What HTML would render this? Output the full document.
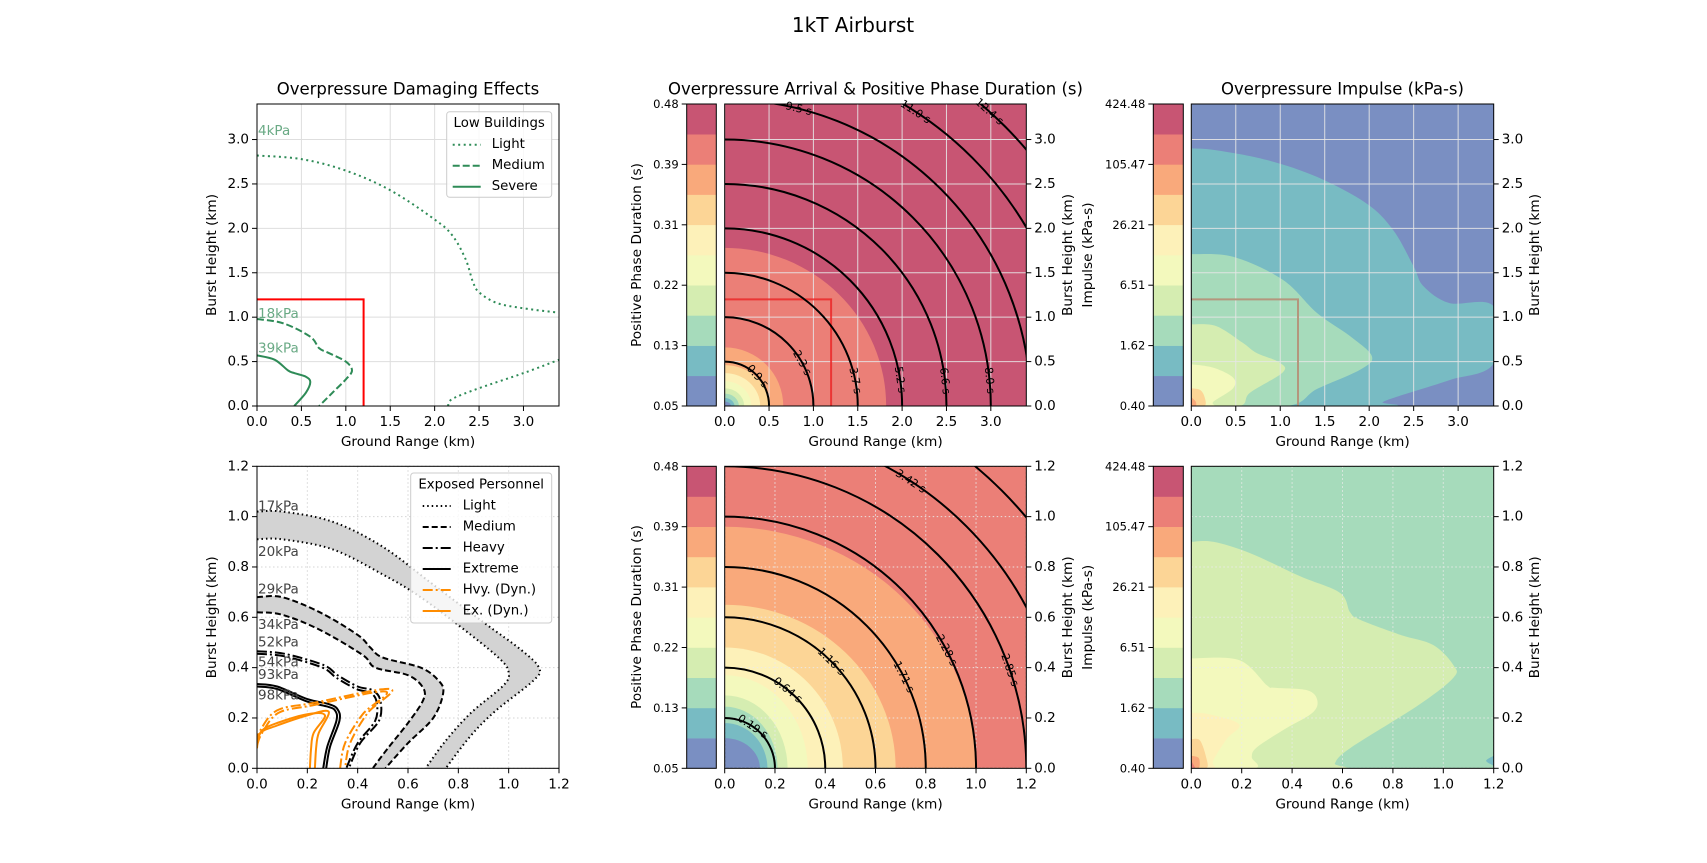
<!DOCTYPE html>
<html><head><meta charset="utf-8"><title>1kT Airburst</title>
<style>
html,body{margin:0;padding:0;background:#fff;width:1707px;height:863px;overflow:hidden;}
svg{display:block;font-family:"DejaVu Sans","Liberation Sans",sans-serif;}
</style></head>
<body>
<svg id="fig" width="1707" height="863" viewBox="0 0 1707 863" xmlns="http://www.w3.org/2000/svg">
<rect width="1707" height="863" fill="#fff"/>
<text x="853" y="25" font-size="20" text-anchor="middle" dominant-baseline="central">1kT Airburst</text>
</svg>
<script>
// ---------- data ----------
const spectral = ['#7a8fc2','#78bbc3','#a6dbbb','#d5edb1','#f3f9bd','#fdf1b9','#fcd596','#f9a97b','#eb7f77','#c85573'];
const durTicks = ['0.48','0.39','0.31','0.22','0.13','0.05'];
const impTicks = ['424.48','105.47','26.21','6.51','1.62','0.40'];
const ticksTop = [0,0.5,1.0,1.5,2.0,2.5,3.0];
const ticksBot = [0,0.2,0.4,0.6,0.8,1.0,1.2];
// Low buildings (top-left)
const lbLightUpper = [[0,2.82],[0.5,2.78],[1.0,2.65],[1.5,2.43],[2.0,2.1],[2.2,1.92],[2.35,1.65],[2.43,1.4],[2.5,1.28],[2.7,1.16],[3.0,1.1],[3.4,1.05]];
const lbLightLower = [[2.15,0],[2.2,0.08],[2.5,0.2],[3.0,0.37],[3.4,0.52]];
const lbMedium = [[0,0.98],[0.3,0.93],[0.6,0.78],[0.7,0.65],[0.8,0.6],[1.0,0.5],[1.07,0.4],[1.0,0.3],[0.85,0.15],[0.7,0]];
const lbSevere = [[0,0.57],[0.2,0.52],[0.35,0.4],[0.42,0.37],[0.55,0.33],[0.6,0.27],[0.55,0.15],[0.42,0]];
const lbLabels = [['4kPa',3.05],['18kPa',0.99],['39kPa',0.6]];
// Exposed personnel (bottom-left)
const epLight17 = [[0,1.02],[0.1,1.02],[0.3,0.98],[0.5,0.88],[0.7,0.73],[0.9,0.58],[1.05,0.47],[1.12,0.4],[1.1,0.35],[0.95,0.23],[0.85,0.13],[0.75,0]];
const epLight20 = [[0,0.91],[0.1,0.91],[0.3,0.87],[0.5,0.77],[0.65,0.68],[0.85,0.53],[0.97,0.43],[1.0,0.38],[0.98,0.33],[0.85,0.22],[0.75,0.11],[0.67,0]];
const epMed29 = [[0,0.68],[0.1,0.68],[0.25,0.62],[0.4,0.53],[0.45,0.48],[0.5,0.44],[0.65,0.4],[0.72,0.35],[0.74,0.3],[0.7,0.2],[0.6,0.1],[0.51,0]];
const epMed34 = [[0,0.62],[0.1,0.61],[0.25,0.55],[0.42,0.45],[0.47,0.4],[0.6,0.37],[0.66,0.32],[0.66,0.27],[0.6,0.18],[0.52,0.08],[0.46,0]];
const epHvy52 = [[0,0.465],[0.11,0.455],[0.265,0.41],[0.32,0.37],[0.4,0.325],[0.46,0.31],[0.49,0.27],[0.485,0.19],[0.41,0.1],[0.365,0]];
const epHvy54 = [[0,0.455],[0.11,0.445],[0.26,0.4],[0.315,0.36],[0.395,0.315],[0.45,0.3],[0.475,0.265],[0.47,0.19],[0.4,0.1],[0.355,0]];
const epExt93 = [[0,0.335],[0.08,0.325],[0.2,0.275],[0.285,0.255],[0.32,0.235],[0.328,0.19],[0.29,0.085],[0.275,0]];
const epExt98 = [[0,0.325],[0.08,0.315],[0.2,0.265],[0.28,0.245],[0.31,0.23],[0.316,0.19],[0.279,0.085],[0.263,0]];
const epHvyDynA = [[0,0.1],[0.013,0.15],[0.08,0.23],[0.225,0.26],[0.53,0.315],[0.44,0.22],[0.37,0.1],[0.35,0]];
const epHvyDynB = [[0,0.09],[0.02,0.14],[0.085,0.22],[0.22,0.25],[0.51,0.305],[0.42,0.215],[0.35,0.1],[0.33,0]];
const epExDynA = [[0,0.08],[0.013,0.14],[0.08,0.17],[0.2,0.21],[0.285,0.225],[0.245,0.14],[0.235,0.08],[0.23,0]];
const epExDynB = [[0,0.1],[0.02,0.15],[0.08,0.18],[0.2,0.215],[0.27,0.21],[0.225,0.14],[0.215,0.08],[0.21,0]];
const epLabels = [['17kPa',1.04],['20kPa',0.86],['29kPa',0.71],['34kPa',0.57],['52kPa',0.5],['54kPa',0.42],['93kPa',0.37],['98kPa',0.29]];
// Duration filled contours: [colorIndex, rx, ry]
const durTopBg = 9;
const durTopFills = [[8,1.82,1.78],[7,0.66,0.66],[6,0.5,0.46],[5,0.4,0.37],[4,0.3,0.28],[3,0.22,0.2],[2,0.16,0.14],[1,0.11,0.09],[0,0.07,0.05]];
const durBotBg = 8;
const durBotFills = [[7,1.0,0.96],[6,0.68,0.65],[5,0.47,0.48],[4,0.33,0.37],[3,0.25,0.29],[2,0.21,0.245],[1,0.17,0.18],[0,0.14,0.12]];
// Arrival contours: radius, label, label angle (deg)
const arrTopR = [0.5,1.0,1.5,2.0,2.5,3.0,3.45,3.95,4.46];
const arrTopLbl = ['0.9 s','2.3 s','3.7 s','5.2 s','6.6 s','8.0 s','9.5 s','11.0 s','12.4 s'];
const arrTopAng = [42,29,11,8.5,6.5,5.5,76,57,48];
const arrBotR = [0.2,0.4,0.6,0.8,1.0,1.2,1.36,1.56];
const arrBotLbl = ['0.19 s','0.64 s','1.16 s','1.71 s','2.28 s','2.85 s','3.42 s',''];
const arrBotAng = [56,51,45,27,28,19,57,0];
// Impulse filled contours (polygons)
const impTopBg = 0;
const impTopFills = [
 [1,[[0,2.9],[0.28,2.88],[0.85,2.77],[1.41,2.58],[1.97,2.28],[2.27,1.98],[2.5,1.57],[2.61,1.35],[2.9,1.16],[3.4,1.12],[3.4,0.48],[2.9,0.29],[2.33,0.11],[2.15,0.04],[2.18,0],[0,0]]],
 [2,[[0,1.71],[0.47,1.68],[1.03,1.42],[1.41,1.05],[1.78,0.79],[2.03,0.56],[1.9,0.41],[1.41,0.19],[1.07,0],[0,0]]],
 [3,[[0,0.92],[0.28,0.9],[0.58,0.71],[0.73,0.6],[0.99,0.49],[1.03,0.38],[0.66,0.15],[0.54,0],[0,0]]],
 [4,[[0,0.47],[0.25,0.43],[0.47,0.32],[0.47,0.2],[0.25,0.05],[0.25,0],[0,0]]],
 [6,[[0,0.2],[0.1,0.18],[0.15,0.1],[0.15,0],[0,0]]],
 [7,[[0,0.1],[0.05,0.05],[0.05,0],[0,0]]]
];
const impBotBg = 2;
const impBotFills = [
 [3,[[0,0.9],[0.087,0.9],[0.233,0.855],[0.432,0.763],[0.59,0.697],[0.63,0.62],[0.67,0.59],[0.83,0.53],[0.96,0.49],[1.04,0.41],[1.04,0.36],[0.9,0.25],[0.63,0.08],[0.57,0.02],[0.58,0],[0,0]]],
 [4,[[0,0.437],[0.19,0.43],[0.3,0.33],[0.33,0.32],[0.46,0.31],[0.5,0.27],[0.48,0.22],[0.37,0.155],[0.26,0.083],[0.24,0.044],[0.25,0],[0,0]]],
 [5,[[0,0.22],[0.07,0.215],[0.19,0.175],[0.14,0.116],[0.087,0.03],[0.09,0],[0,0]]],
 [6,[[0,0.116],[0.035,0.11],[0.06,0.04],[0.06,0],[0,0]]],
 [7,[[0,0.05],[0.03,0.04],[0.03,0],[0,0]]],
 [8,[[0,0.03],[0.015,0],[0,0]]],
 [1,[[1.2,0.05],[1.17,0.03],[1.2,0.01]]]
];
const boxKm = 1.2;

// ---------- helpers ----------
const NS='http://www.w3.org/2000/svg';
const svg=document.getElementById('fig');
function mk(tag,attrs,parent){const e=document.createElementNS(NS,tag);for(const k in attrs)e.setAttribute(k,attrs[k]);(parent||svg).appendChild(e);return e;}
function panel(x0,y0,w,h,xmax,ymax){return {x0,y0,w,h,sx:v=>x0+v/xmax*w,sy:v=>y0+h-v/ymax*h};}
function pts(p,arr){return arr.map(d=>p.sx(d[0]).toFixed(1)+','+p.sy(d[1]).toFixed(1)).join(' ');}
function smoothPath(p,arr,close){
  const P=arr.map(d=>[p.sx(d[0]),p.sy(d[1])]);
  let d='M '+P[0][0].toFixed(1)+' '+P[0][1].toFixed(1);
  for(let i=0;i<P.length-1;i++){
    const p0=P[i-1]||P[i],p1=P[i],p2=P[i+1],p3=P[i+2]||P[i+1];
    const c1=[p1[0]+(p2[0]-p0[0])/6,p1[1]+(p2[1]-p0[1])/6];
    const c2=[p2[0]-(p3[0]-p1[0])/6,p2[1]-(p3[1]-p1[1])/6];
    d+=` C ${c1[0].toFixed(1)} ${c1[1].toFixed(1)} ${c2[0].toFixed(1)} ${c2[1].toFixed(1)} ${p2[0].toFixed(1)} ${p2[1].toFixed(1)}`;
  }
  return d+(close?' Z':'');
}
let clipN=0;
function clipFor(p){const id='clip'+(clipN++);const cp=mk('clipPath',{id});mk('rect',{x:p.x0,y:p.y0,width:p.w,height:p.h},cp);return 'url(#'+id+')';}
function fmt(v){return v.toFixed(1);}

function grid(p,ticks,dotted,color,name){
  const g=mk('g',{stroke:color,'stroke-width':1,'stroke-dasharray':dotted?'1.5,2.5':'none'});
  
  
  ticks.forEach(t=>{mk('line',{x1:p.sx(t),x2:p.sx(t),y1:p.y0,y2:p.y0+p.h},g);mk('line',{x1:p.x0,x2:p.x0+p.w,y1:p.sy(t),y2:p.sy(t)},g);});
}
function axes(p,ticks,yRight,xlabel,ylabels,ylabelX,prefix){
  const fr=mk('rect',{x:p.x0,y:p.y0,width:p.w,height:p.h,fill:'none',stroke:'#000','stroke-width':1});
  
  
  const gx=mk('g',{'font-size':13.5});
  
  
  ticks.forEach(t=>{const x=p.sx(t);mk('line',{x1:x,x2:x,y1:p.y0+p.h,y2:p.y0+p.h+5,stroke:'#000'},gx);
    const tx=mk('text',{x:x,y:p.y0+p.h+16,'text-anchor':'middle','dominant-baseline':'central'},gx);tx.textContent=fmt(t);});
  const gy=mk('g',{'font-size':13.5});
  
  
  ticks.forEach(t=>{const y=p.sy(t);
    if(yRight){mk('line',{x1:p.x0+p.w,x2:p.x0+p.w+5,y1:y,y2:y,stroke:'#000'},gy);
      const tx=mk('text',{x:p.x0+p.w+8,y:y,'text-anchor':'start','dominant-baseline':'central'},gy);tx.textContent=fmt(t);}
    else{mk('line',{x1:p.x0-5,x2:p.x0,y1:y,y2:y,stroke:'#000'},gy);
      const tx=mk('text',{x:p.x0-8,y:y,'text-anchor':'end','dominant-baseline':'central'},gy);tx.textContent=fmt(t);}});
  const xl=mk('text',{x:p.x0+p.w/2,y:p.y0+p.h+36,'text-anchor':'middle','dominant-baseline':'central','font-size':13.7});
  
  
  xl.textContent=xlabel;
  ylabels.forEach((lab,i)=>{const cx=ylabelX[i],cy=p.y0+p.h/2;
    const yl=mk('text',{x:cx,y:cy,'text-anchor':'middle','dominant-baseline':'central','font-size':13.7,transform:`rotate(-90 ${cx} ${cy})`});
    
    
    yl.textContent=lab;});
}
function title(p,txt,name){const t=mk('text',{x:p.x0+p.w/2,y:p.y0-15,'text-anchor':'middle','dominant-baseline':'central','font-size':16.5});
  
  
  t.textContent=txt;}
function colorbar(x,y,w,h,labels,name){
  const g=mk('g',{});
  
  
  const bh=h/spectral.length;
  spectral.forEach((c,i)=>{const r=mk('rect',{x:x,y:y+h-(i+1)*bh,width:w,height:bh+0.3,fill:c},g);
    
    });
  mk('rect',{x:x,y:y,width:w,height:h,fill:'none',stroke:'#000','stroke-width':1},g);
  labels.forEach((l,i)=>{const yy=y+i*h/(labels.length-1);
    mk('line',{x1:x-5,x2:x,y1:yy,y2:yy,stroke:'#000'},g);
    const t=mk('text',{x:x-8,y:yy,'text-anchor':'end','dominant-baseline':'central','font-size':11.5},g);
    
    
    t.textContent=l;});
}
function curve(p,arr,stroke,width,dash,name,clip){
  const e=mk('path',{d:smoothPath(p,arr,false),fill:'none',stroke:stroke,'stroke-width':width,'stroke-dasharray':dash||'none','stroke-linejoin':'round','clip-path':clip});
  
  
  return e;
}
function band(p,outer,inner,name,clip){
  const poly=outer.concat(inner.slice().reverse());
  const d=smoothPath(p,outer,false)+' L'+smoothPath(p,inner.slice().reverse(),false).slice(1)+' Z';
  const e=mk('path',{d:d,fill:'#d3d3d3',stroke:'none','clip-path':clip});
  
  
}
function ellipseFills(p,bg,fills,clip,name){
  const b=mk('rect',{x:p.x0,y:p.y0,width:p.w,height:p.h,fill:spectral[bg]});
  
  
  fills.forEach(f=>{const cx=p.sx(0),cy=p.sy(0);
    const e=mk('ellipse',{cx:cx,cy:cy,rx:p.sx(f[1])-cx,ry:cy-p.sy(f[2]),fill:spectral[f[0]],'clip-path':clip});
    
    });
}
function polyFills(p,bg,fills,clip,name){
  const b=mk('rect',{x:p.x0,y:p.y0,width:p.w,height:p.h,fill:spectral[bg]});
  
  
  fills.forEach(f=>{const e=mk('path',{d:smoothPath(p,f[1],true),fill:spectral[f[0]],'clip-path':clip});
    
    });
}
function arrivals(p,radii,labels,angles,clip,name){
  radii.forEach((r,i)=>{const cx=p.sx(0),cy=p.sy(0);
    const rx=p.sx(r)-cx,ry=cy-p.sy(r);
    const e=mk('path',{d:`M ${cx} ${cy-ry} A ${rx} ${ry} 0 0 1 ${cx+rx} ${cy}`,fill:'none',stroke:'#000','stroke-width':2,'clip-path':clip});
    
    
    if(labels[i]){const a=angles[i]*Math.PI/180;const lx=p.sx(r*Math.cos(a)),ly=p.sy(r*Math.sin(a));
      const t=mk('text',{x:lx,y:ly,'text-anchor':'middle','dominant-baseline':'central','font-size':11,transform:`rotate(${90-angles[i]} ${lx} ${ly})`});
      
      
      t.textContent=labels[i];}
  });
}
function redBox(p,color,name,clip){
  const e=mk('polyline',{points:pts(p,[[0,boxKm],[boxKm,boxKm],[boxKm,0]]),fill:'none',stroke:color,'stroke-width':2,'clip-path':clip});
  
  
}
function legend(x,y,w,h,ttl,entries,name){
  const g=mk('g',{'font-size':13.3});
  
  
  mk('rect',{x:x,y:y,width:w,height:h,rx:3,fill:'rgba(255,255,255,0.8)',stroke:'#ccc'},g);
  const t=mk('text',{x:x+w/2,y:y+12,'text-anchor':'middle','dominant-baseline':'central'},g);t.textContent=ttl;
  entries.forEach((en,i)=>{const yy=y+33+i*21;
    mk('line',{x1:x+en.lx,x2:x+en.lx+28,y1:yy,y2:yy,stroke:en.c,'stroke-width':2,'stroke-dasharray':en.d},g);
    const tt=mk('text',{x:x+en.tx,y:yy,'dominant-baseline':'central'},g);
    
    
    tt.textContent=en.t;});
}

// ---------- panels ----------
const P1=panel(257,104,302,302,3.4,3.4), P2=panel(724.7,104,301.6,302,3.4,3.4), P3=panel(1191.3,104,302.4,302,3.4,3.4);
const P4=panel(257,466.3,302,302,1.2,1.2), P5=panel(724.7,466.3,301.6,302,1.2,1.2), P6=panel(1191.3,466.3,302.4,302,1.2,1.2);
const G='#2e8b57';

// P1
grid(P1,ticksTop,false,'#dedede','damage-grid');
let c1=clipFor(P1);
redBox(P1,'#ff0000','damage-reference-box',c1);
curve(P1,lbLightUpper,G,2,'2,3.5','light-damage-upper',c1);
curve(P1,lbLightLower,G,2,'2,3.5','light-damage-lower',c1);
curve(P1,lbMedium,G,2,'7,3','medium-damage',c1);
curve(P1,lbSevere,G,2,'none','severe-damage',c1);
lbLabels.forEach(l=>{const t=mk('text',{x:P1.sx(0)+1,y:P1.sy(l[1])+ -4,fill:'#6aaa85','font-size':13.5,'dominant-baseline':'central'});
  
  
  t.textContent=l[0];});
axes(P1,ticksTop,false,'Ground Range (km)',['Burst Height (km)'],[212],'damage');
title(P1,'Overpressure Damaging Effects','damage-title');
legend(446.7,111.7,105,85.6,'Low Buildings',[{t:'Light',c:G,d:'2,3.5',lx:6,tx:45},{t:'Medium',c:G,d:'7,3',lx:6,tx:45},{t:'Severe',c:G,d:'none',lx:6,tx:45}],'low-buildings-legend');

// P4
grid(P4,ticksBot,true,'#d5d5d5','personnel-grid');
let c4=clipFor(P4);
band(P4,epLight17,epLight20,'light-band',c4);
band(P4,epMed29,epMed34,'medium-band',c4);
curve(P4,epLight17,'#000',2,'1.5,3','light-17kpa',c4);
curve(P4,epLight20,'#000',2,'1.5,3','light-20kpa',c4);
curve(P4,epMed29,'#000',2,'6,3','medium-29kpa',c4);
curve(P4,epMed34,'#000',2,'6,3','medium-34kpa',c4);
curve(P4,epHvy52,'#000',2,'10,3,2,3','heavy-52kpa',c4);
curve(P4,epHvy54,'#000',2,'10,3,2,3','heavy-54kpa',c4);
curve(P4,epExt93,'#000',2,'none','extreme-93kpa',c4);
curve(P4,epExt98,'#000',2,'none','extreme-98kpa',c4);
curve(P4,epHvyDynA,'#ff8c00',2,'10,3,2,3','heavy-dynamic-a',c4);
curve(P4,epHvyDynB,'#ff8c00',2,'10,3,2,3','heavy-dynamic-b',c4);
curve(P4,epExDynA,'#ff8c00',2,'none','extreme-dynamic-a',c4);
curve(P4,epExDynB,'#ff8c00',2,'none','extreme-dynamic-b',c4);
epLabels.forEach(l=>{const t=mk('text',{x:P4.sx(0)+1,y:P4.sy(l[1]),fill:'#444','font-size':13.5,'dominant-baseline':'central'});
  
  
  t.textContent=l[0];});
axes(P4,ticksBot,false,'Ground Range (km)',['Burst Height (km)'],[212],'personnel');
legend(410.7,473,141,150,'Exposed Personnel',[
 {t:'Light',c:'#000',d:'1.5,3',lx:12,tx:52},{t:'Medium',c:'#000',d:'6,3',lx:12,tx:52},{t:'Heavy',c:'#000',d:'10,3,2,3',lx:12,tx:52},
 {t:'Extreme',c:'#000',d:'none',lx:12,tx:52},{t:'Hvy. (Dyn.)',c:'#ff8c00',d:'10,3,2,3',lx:12,tx:52},{t:'Ex. (Dyn.)',c:'#ff8c00',d:'none',lx:12,tx:52}],'exposed-personnel-legend');

// P2
let c2=clipFor(P2);
ellipseFills(P2,durTopBg,durTopFills,c2,'duration-top');
grid(P2,ticksTop,false,'rgba(230,230,230,0.9)','arrival-top-grid');
redBox(P2,'rgba(235,40,40,0.85)','arrival-top-reference-box',c2);
arrivals(P2,arrTopR,arrTopLbl,arrTopAng,c2,'arrival-top');
axes(P2,ticksTop,true,'Ground Range (km)',['Burst Height (km)','Impulse (kPa-s)'],[1068,1088],'arrival-top');
colorbar(686.7,104,29.6,302,durTicks,'duration-colorbar-top');
(function(){const cx=637,cy=255;const t=mk('text',{x:cx,y:cy,'text-anchor':'middle','dominant-baseline':'central','font-size':13.7,transform:`rotate(-90 ${cx} ${cy})`});
 
 
 t.textContent='Positive Phase Duration (s)';})();
title(P2,'Overpressure Arrival & Positive Phase Duration (s)','arrival-title');

// P5
let c5=clipFor(P5);
ellipseFills(P5,durBotBg,durBotFills,c5,'duration-bottom');
grid(P5,ticksBot,true,'rgba(235,235,235,0.9)','arrival-bottom-grid');
arrivals(P5,arrBotR,arrBotLbl,arrBotAng,c5,'arrival-bottom');
axes(P5,ticksBot,true,'Ground Range (km)',['Burst Height (km)','Impulse (kPa-s)'],[1068,1088],'arrival-bottom');
colorbar(686.7,466.3,29.6,302,durTicks,'duration-colorbar-bottom');
(function(){const cx=637,cy=617;const t=mk('text',{x:cx,y:cy,'text-anchor':'middle','dominant-baseline':'central','font-size':13.7,transform:`rotate(-90 ${cx} ${cy})`});
 
 
 t.textContent='Positive Phase Duration (s)';})();

// P3
let c3=clipFor(P3);
polyFills(P3,impTopBg,impTopFills,c3,'impulse-top');
grid(P3,ticksTop,false,'rgba(230,230,230,0.9)','impulse-top-grid');
redBox(P3,'rgb(180,150,125)','impulse-top-reference-box',c3);
axes(P3,ticksTop,true,'Ground Range (km)',['Burst Height (km)'],[1535],'impulse-top');
colorbar(1153.3,104,30,302,impTicks,'impulse-colorbar-top');
title(P3,'Overpressure Impulse (kPa-s)','impulse-title');

// P6
let c6=clipFor(P6);
polyFills(P6,impBotBg,impBotFills,c6,'impulse-bottom');
grid(P6,ticksBot,true,'rgba(235,235,235,0.9)','impulse-bottom-grid');
axes(P6,ticksBot,true,'Ground Range (km)',['Burst Height (km)'],[1535],'impulse-bottom');
colorbar(1153.3,466.3,30,302,impTicks,'impulse-colorbar-bottom');
</script>
</body></html>
